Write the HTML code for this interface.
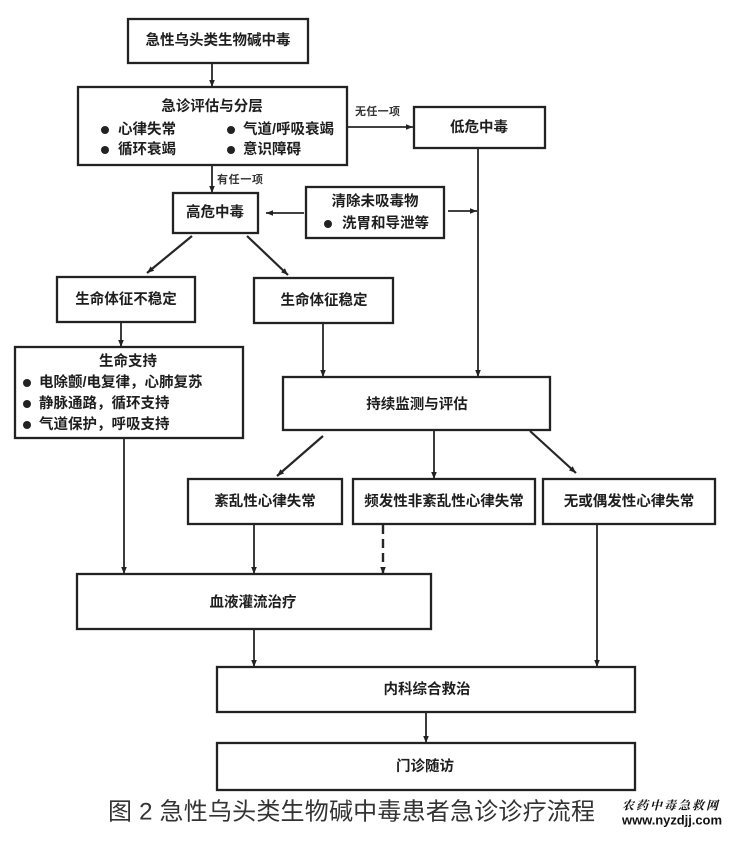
<!DOCTYPE html>
<html>
<head>
<meta charset="utf-8">
<style>
html,body{margin:0;padding:0;background:#fff;}
svg{display:block;}
.t{font-family:"Liberation Sans","Noto Sans CJK SC",sans-serif;font-weight:bold;font-size:14.5px;fill:#1e1e1e;}
.s{font-family:"Liberation Sans","Noto Sans CJK SC",sans-serif;font-weight:bold;font-size:11px;fill:#333;}
.b{fill:none;stroke:#222;stroke-width:2.3;}
.l{stroke:#262626;stroke-width:1.8;fill:none;}
</style>
</head>
<body>
<svg width="732" height="842" viewBox="0 0 732 842" xmlns="http://www.w3.org/2000/svg">
<defs>
<marker id="a" viewBox="0 0 10 10" refX="10" refY="5" markerWidth="7" markerHeight="7" markerUnits="userSpaceOnUse" orient="auto">
<path d="M0,1 L10,5 L0,9 z" fill="#222"/>
</marker>
</defs>
<rect width="732" height="842" fill="#fff"/>

<!-- boxes -->
<rect class="b" x="128" y="19" width="180" height="44"/>
<rect class="b" x="78" y="87" width="269" height="78"/>
<rect class="b" x="414" y="107" width="131" height="41"/>
<rect class="b" x="173" y="193" width="85" height="40"/>
<rect class="b" x="306" y="187" width="138" height="51"/>
<rect class="b" x="57" y="277" width="138" height="45"/>
<rect class="b" x="254" y="278" width="139" height="45"/>
<rect class="b" x="15" y="347" width="228" height="91"/>
<rect class="b" x="283" y="377" width="267" height="53"/>
<rect class="b" x="188" y="479" width="154" height="45"/>
<rect class="b" x="353" y="479" width="182" height="45"/>
<rect class="b" x="543" y="479" width="172" height="45"/>
<rect class="b" x="77" y="574" width="354" height="55"/>
<rect class="b" x="217" y="667" width="418" height="45"/>
<rect class="b" x="217" y="743" width="418" height="47"/>

<!-- connectors -->
<line class="l" x1="212" y1="63" x2="212" y2="87" marker-end="url(#a)"/>
<line class="l" x1="347" y1="127" x2="413" y2="127" marker-end="url(#a)"/>
<line class="l" x1="212" y1="165" x2="212" y2="193" marker-end="url(#a)"/>
<line class="l" x1="478" y1="148" x2="478" y2="377" marker-end="url(#a)"/>
<line class="l" x1="304" y1="213" x2="266" y2="213" marker-end="url(#a)"/>
<line class="l" x1="448" y1="211" x2="477" y2="211" marker-end="url(#a)"/>
<line class="l" x1="192" y1="236" x2="147" y2="273" marker-end="url(#a)" style="stroke-width:2.2"/>
<line class="l" x1="247" y1="236" x2="288" y2="275" marker-end="url(#a)" style="stroke-width:2.2"/>
<line class="l" x1="121" y1="322" x2="121" y2="347" marker-end="url(#a)"/>
<line class="l" x1="323" y1="323" x2="323" y2="377" marker-end="url(#a)"/>
<line class="l" x1="323" y1="436" x2="277" y2="476" marker-end="url(#a)" style="stroke-width:2.2"/>
<line class="l" x1="434" y1="430" x2="434" y2="479" marker-end="url(#a)"/>
<line class="l" x1="530" y1="431" x2="576" y2="473" marker-end="url(#a)" style="stroke-width:2.2"/>
<line class="l" x1="124" y1="438" x2="124" y2="574" marker-end="url(#a)"/>
<line class="l" x1="254" y1="524" x2="254" y2="574" marker-end="url(#a)"/>
<line class="l" x1="383" y1="525" x2="383" y2="574" marker-end="url(#a)" stroke-dasharray="9,5" style="stroke-width:2.4"/>
<line class="l" x1="597" y1="524" x2="597" y2="667" marker-end="url(#a)"/>
<line class="l" x1="254" y1="629" x2="254" y2="667" marker-end="url(#a)"/>
<line class="l" x1="426" y1="712" x2="426" y2="743" marker-end="url(#a)"/>

<!-- connector labels -->
<text class="s" x="355" y="112" dominant-baseline="central" textLength="45">无任一项</text>
<text class="s" x="217" y="180" dominant-baseline="central" textLength="46">有任一项</text>

<!-- box texts -->
<text class="t" x="218" y="41" text-anchor="middle" dominant-baseline="central">急性乌头类生物碱中毒</text>

<text class="t" x="212" y="107" text-anchor="middle" dominant-baseline="central">急诊评估与分层</text>
<circle cx="105" cy="130" r="4" fill="#222"/>
<circle cx="105" cy="150" r="4" fill="#222"/>
<circle cx="231" cy="130" r="4" fill="#222"/>
<circle cx="231" cy="150" r="4" fill="#222"/>
<text class="t" x="118" y="130" dominant-baseline="central">心律失常</text>
<text class="t" x="118" y="150" dominant-baseline="central">循环衰竭</text>
<text class="t" x="243" y="130" dominant-baseline="central">气道/呼吸衰竭</text>
<text class="t" x="243" y="150" dominant-baseline="central">意识障碍</text>

<text class="t" x="479" y="128" text-anchor="middle" dominant-baseline="central">低危中毒</text>
<text class="t" x="215" y="213" text-anchor="middle" dominant-baseline="central">高危中毒</text>

<text class="t" x="375" y="202" text-anchor="middle" dominant-baseline="central">清除未吸毒物</text>
<circle cx="328" cy="224" r="4" fill="#222"/>
<text class="t" x="342" y="224" dominant-baseline="central">洗胃和导泄等</text>

<text class="t" x="126" y="300" text-anchor="middle" dominant-baseline="central">生命体征不稳定</text>
<text class="t" x="324" y="301" text-anchor="middle" dominant-baseline="central">生命体征稳定</text>

<text class="t" x="128" y="362" text-anchor="middle" dominant-baseline="central">生命支持</text>
<circle cx="27" cy="383" r="4" fill="#222"/>
<circle cx="27" cy="404" r="4" fill="#222"/>
<circle cx="27" cy="425" r="4" fill="#222"/>
<text class="t" x="39" y="383" dominant-baseline="central">电除颤/电复律，心肺复苏</text>
<text class="t" x="39" y="404" dominant-baseline="central">静脉通路，循环支持</text>
<text class="t" x="39" y="425" dominant-baseline="central">气道保护，呼吸支持</text>

<text class="t" x="417" y="405" text-anchor="middle" dominant-baseline="central">持续监测与评估</text>
<text class="t" x="265" y="502" text-anchor="middle" dominant-baseline="central">紊乱性心律失常</text>
<text class="t" x="444" y="502" text-anchor="middle" dominant-baseline="central">频发性非紊乱性心律失常</text>
<text class="t" x="629" y="502" text-anchor="middle" dominant-baseline="central">无或偶发性心律失常</text>
<text class="t" x="253" y="603" text-anchor="middle" dominant-baseline="central">血液灌流治疗</text>
<text class="t" x="427" y="690" text-anchor="middle" dominant-baseline="central">内科综合救治</text>
<text class="t" x="425" y="767" text-anchor="middle" dominant-baseline="central">门诊随访</text>

<!-- caption -->
<text x="108" y="812" dominant-baseline="central" textLength="487" style="font-family:'Liberation Sans','Noto Sans CJK SC',sans-serif;font-size:24px;font-weight:normal;fill:#333;">图 2 急性乌头类生物碱中毒患者急诊诊疗流程</text>

<!-- watermark -->
<text x="622" y="805" dominant-baseline="central" textLength="96" style="font-family:'Noto Serif CJK SC','Liberation Serif',serif;font-size:12px;font-weight:bold;font-style:italic;fill:#111;">农药中毒急救网</text>
<text x="622" y="820" dominant-baseline="central" textLength="100" style="font-family:'Liberation Sans',sans-serif;font-size:13px;font-weight:bold;fill:#111;">www.nyzdjj.com</text>
</svg>
</body>
</html>
